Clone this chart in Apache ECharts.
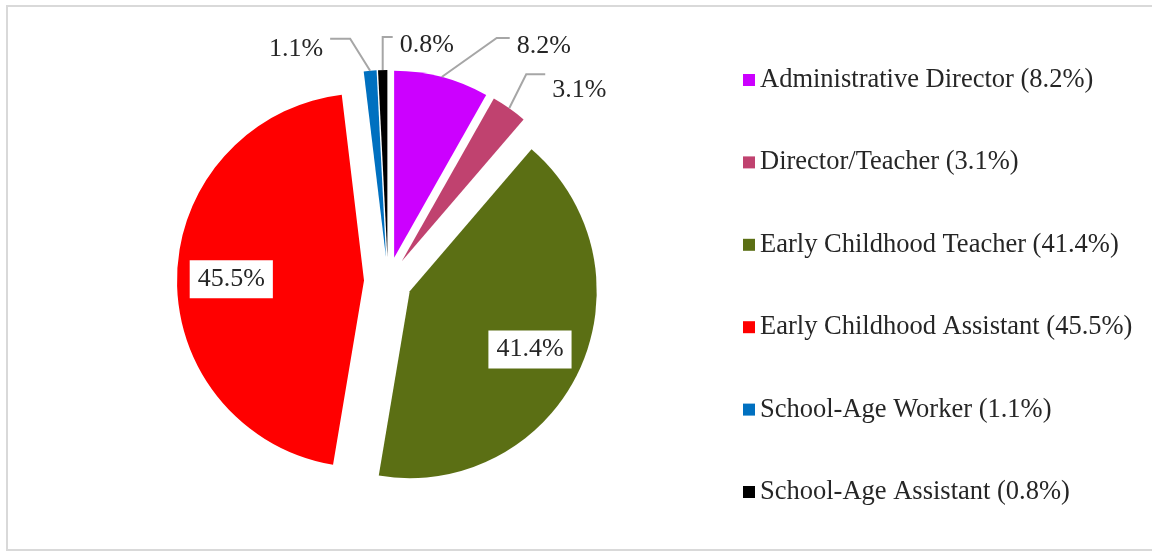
<!DOCTYPE html>
<html>
<head>
<meta charset="utf-8">
<script src="https://cdn.jsdelivr.net/npm/echarts@6/dist/echarts.min.js"></script>
<style>
  html, body { margin: 0; padding: 0; background: #fff; }
  #chart { width: 1152px; height: 555px; }
</style>
</head>
<body>
<div id="chart"></div>
<script>
// Staff roles and their share of the workforce (%)
var roles = [
  'Administrative Director',
  'Director/Teacher',
  'Early Childhood Teacher',
  'Early Childhood Assistant',
  'School-Age Worker',
  'School-Age Assistant'
];
var shares = [8.2, 3.1, 41.4, 45.5, 1.1, 0.8];
var roleColors = ['#CC00FF', '#C0426F', '#5B6F14', '#FF0000', '#0070C0', '#000000'];

// Slices whose percentage sits inside the slice in a white box
var insideLabels = [false, false, true, true, false, false];

// Leader line shapes for the outside labels: first segment, horizontal run, text drop
var leaderShape = {
  0: { seg: [55, -39], run: 13, drop: 8 },
  1: { seg: [17, -34], run: 19, drop: 16 },
  4: { seg: [-20, -32], run: -20, drop: 10 },
  5: { seg: [0, -33], run: 10, drop: 8 }
};

var pieCenter = [388, 281];
var pieRadius = 187;
var explode = 24;
var serif = '"Liberation Serif", "Times New Roman", serif';

// Middle angle (radians, screen y down) of each slice, clockwise from 12 o'clock
var total = shares.reduce(function (a, b) { return a + b; }, 0);
var midAngles = [];
(function () {
  var acc = 0;
  shares.forEach(function (v) {
    var frac = (acc + v / 2) / total;
    midAngles.push(-Math.PI / 2 + frac * Math.PI * 2);
    acc += v;
  });
})();

var chart = echarts.init(document.getElementById('chart'), null, { renderer: 'canvas' });

// Exploded, coloured slices
var sliceData = roles.map(function (name, i) {
  return {
    name: name,
    value: shares[i],
    selected: true,
    itemStyle: { color: roleColors[i] }
  };
});

// Same values again, carrying the percentage labels and leader lines
var labelData = roles.map(function (name, i) {
  var item = { name: name, value: shares[i] };
  if (insideLabels[i]) {
    item.label = {
      position: 'inside',
      backgroundColor: '#FFFFFF',
      padding: [7, 8, 5, 8]
    };
    item.labelLine = { show: false };
  }
  return item;
});

chart.setOption({
  animation: false,
  backgroundColor: '#FFFFFF',
  graphic: [{
    type: 'rect',
    shape: { x: 7, y: 6, width: 1150, height: 544 },
    style: { fill: 'none', stroke: '#D9D9D9', lineWidth: 2 },
    silent: true
  }],
  legend: {
    orient: 'vertical',
    left: 738,
    top: 60,
    itemWidth: 12,
    itemHeight: 12,
    itemGap: 52.4,
    icon: 'rect',
    data: roles,
    formatter: function (name) {
      return name + ' (' + shares[roles.indexOf(name)] + '%)';
    },
    textStyle: {
      fontFamily: serif,
      fontSize: 26.5,
      lineHeight: 30,
      color: '#262626'
    }
  },
  series: [{
    type: 'pie',
    name: 'slices',
    center: pieCenter,
    radius: pieRadius,
    startAngle: 90,
    clockwise: true,
    selectedMode: 'multiple',
    selectedOffset: explode,
    emphasis: { disabled: true },
    label: { show: false },
    labelLine: { show: false },
    data: sliceData
  }, {
    type: 'pie',
    name: 'labels',
    z: 5,
    silent: true,
    center: pieCenter,
    radius: pieRadius,
    startAngle: 90,
    clockwise: true,
    avoidLabelOverlap: false,
    emphasis: { disabled: true },
    itemStyle: { color: 'rgba(0,0,0,0)' },
    label: {
      show: true,
      formatter: function (p) { return p.value + '%'; },
      fontFamily: serif,
      fontSize: 26,
      color: '#262626'
    },
    labelLine: {
      show: true,
      length: 20,
      length2: 10,
      lineStyle: { color: '#A6A6A6', width: 2 }
    },
    labelLayout: function (p) {
      var i = p.dataIndex;
      var a = midAngles[i];
      var dir = [Math.cos(a), Math.sin(a)];
      if (insideLabels[i]) {
        // boxed percentage at about 70% of the radius of the exploded slice
        var rr = explode + pieRadius * 0.71;
        return {
          x: pieCenter[0] + dir[0] * rr,
          y: pieCenter[1] + dir[1] * rr + 2,
          align: 'center',
          verticalAlign: 'middle'
        };
      }
      var g = leaderShape[i];
      if (!g) return {};
      var edge = pieRadius + explode;
      var p0 = [pieCenter[0] + dir[0] * edge, pieCenter[1] + dir[1] * edge];
      var p1 = [p0[0] + g.seg[0], p0[1] + g.seg[1]];
      var p2 = [p1[0] + g.run, p1[1]];
      var right = g.run > 0;
      return {
        x: p2[0] + (right ? 7 : -7),
        y: p2[1] + g.drop,
        align: right ? 'left' : 'right',
        verticalAlign: 'middle',
        labelLinePoints: [p0, p1, p2]
      };
    },
    data: labelData
  }]
});
</script>
</body>
</html>
